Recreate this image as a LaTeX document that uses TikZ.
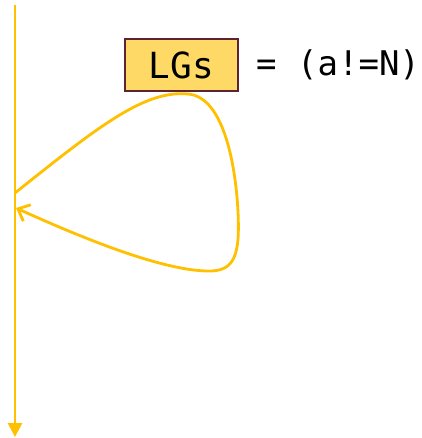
\documentclass[tikz,border=0pt]{standalone}
\usepackage{fontspec}
\newfontfamily\monofont{DejaVu Sans Mono}
\usetikzlibrary{arrows.meta}
\definecolor{lineyellow}{HTML}{FFC000}
\definecolor{boxfill}{HTML}{FFD966}
\definecolor{boxborder}{HTML}{5B2333}
\tikzset{
  timeline/.style={draw=lineyellow, line width=2.8pt, -{Triangle[length=14pt,width=14pt]}},
  loopline/.style={draw=lineyellow, line width=2.8pt, -{Straight Barb[length=10pt,width=18pt]}},
  lgbox/.style={draw=boxborder, fill=boxfill, line width=2pt, minimum width=113pt, minimum height=52pt, inner sep=0pt, font=\monofont\fontsize{36}{40}\selectfont},
  condtext/.style={anchor=base west, inner sep=0pt, font=\monofont\fontsize{34}{38}\selectfont}
}
\begin{document}
\begin{tikzpicture}[x=1pt,y=-1pt]
\useasboundingbox (0,0) rectangle (421,438);
\coordinate (top) at (15,5);
\coordinate (bot) at (15,437);
\coordinate (ls) at (15,193);
\coordinate (le) at (16,208);
\draw[timeline] (top) -- (bot);
\node[lgbox] (lg) at (181.5,65) {LGs};
\node[condtext] (cond) at (256,76) {= (a!=N)};
\draw[loopline] (ls) .. controls (100,125) and (145,90) .. (188,94)
  .. controls (225,97) and (236,170) .. (238,212)
  .. controls (240,255) and (235,272) .. (207,271)
  .. controls (160,270) and (80,237) .. (le);
\end{tikzpicture}
\end{document}
